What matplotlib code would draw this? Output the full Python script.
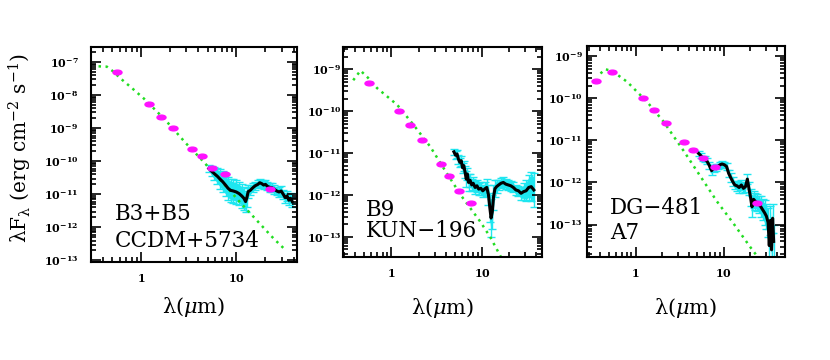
import numpy as np
import matplotlib
matplotlib.use("Agg")
import matplotlib.pyplot as plt
from matplotlib.path import Path
from matplotlib.ticker import FixedLocator, FuncFormatter, NullFormatter

plt.rcParams['mathtext.fontset'] = 'dejavuserif'

# ---------------- data ----------------
labels = [("B3+B5", "CCDM+5734"), ("B9", "KUN\u2212196"), ("DG\u2212481", "A7")]

# photometry (wavelength in micron, log10 lambda F_lambda)
phot1_lam = [0.56, 1.22, 1.63, 2.17, 3.44, 4.35, 5.6, 7.6, 22.4]
phot1_log = [-7.31, -8.28, -8.65, -9.01, -9.62, -9.83, -10.21, -10.39, -10.83]
phot2_lam = [0.56, 1.22, 1.62, 2.18, 3.53, 4.36, 5.62, 7.6]
phot2_log = [-9.32, -9.99, -10.32, -10.69, -11.26, -11.55, -11.90, -12.20]
phot3_lam = [0.36, 0.545, 1.22, 1.64, 2.2, 3.59, 4.5, 5.84, 7.9, 23.9]
phot3_log = [-9.59, -9.37, -9.99, -10.29, -10.58, -11.03, -11.24, -11.42, -11.64, -12.48]

# photospheric model
mod1_lam = [0.36, 0.44, 0.50, 0.62, 0.80, 1.08, 1.5, 1.99, 2.97, 4.1, 6.0, 8.5, 11.0, 14.9, 20.0, 25.0, 28.6, 31.0]
mod1_log = [-7.13, -7.14, -7.26, -7.51, -7.78, -8.11, -8.52, -8.89, -9.46, -9.88, -10.40, -10.88, -11.25, -11.66, -12.06, -12.36, -12.52, -12.62]
mod2_lam = [0.378, 0.455, 0.55, 0.695, 0.90, 1.16, 1.76, 2.69, 4.11, 6.0, 9.6, 12.3, 16.0, 18.0]
mod2_log = [-9.26, -9.03, -9.20, -9.45, -9.65, -9.85, -10.33, -10.85, -11.49, -12.04, -12.64, -13.00, -13.46, -13.65]
mod3_lam = [0.40, 0.457, 0.55, 0.805, 1.36, 2.09, 3.52, 5.44, 8.4, 12.9, 20.0, 25.0, 27.0]
mod3_log = [-9.41, -9.31, -9.36, -9.61, -10.09, -10.56, -11.25, -11.85, -12.45, -12.97, -13.53, -13.80, -13.90]

# IRS spectra (wavelength, log flux, error in dex)
spec1_lam = [5.15, 5.5, 5.9, 6.3, 6.8, 7.2, 7.7, 8.2, 8.7, 9.3, 10.0, 10.7, 11.4, 12.0, 12.5, 12.9, 13.3, 14.0,
             14.9, 15.8, 16.8, 17.6, 18.5, 19.3, 20.2, 21.2, 22.4, 23.6, 25.0, 26.5, 28.0, 29.5, 31.0, 32.5, 34.0,
             35.5, 37.0, 38.5]
spec1_log = [-10.22, -10.30, -10.38, -10.45, -10.55, -10.62, -10.72, -10.82, -10.88, -10.90, -10.93, -10.98,
             -11.05, -11.12, -11.22, -11.10, -10.92, -10.88, -10.80, -10.74, -10.70, -10.65, -10.68, -10.72,
             -10.70, -10.76, -10.79, -10.80, -10.85, -10.90, -10.93, -10.90, -11.00, -11.10, -11.05, -11.18,
             -11.12, -11.22]
spec1_err = [0.10, 0.15, 0.20, 0.25, 0.30, 0.32, 0.33, 0.35, 0.35, 0.35, 0.35, 0.35, 0.35, 0.35, 0.32, 0.28,
             0.20, 0.15, 0.13, 0.12, 0.12, 0.12, 0.12, 0.12, 0.12, 0.12, 0.13, 0.13, 0.13, 0.13, 0.14, 0.14,
             0.14, 0.15, 0.15, 0.15, 0.15, 0.15]

spec2_lam = [4.9, 5.1, 5.3, 5.5, 5.7, 5.9, 6.1, 6.3, 6.5, 6.7, 6.9, 7.1, 7.4, 7.7, 8.0, 8.4, 8.8, 9.2, 9.7,
             10.2, 10.8, 11.3, 11.8, 12.2, 12.6, 13.0, 13.4, 13.9, 14.5, 15.3, 16.2, 17.2, 18.3, 19.5, 20.8,
             22.2, 23.7, 25.3, 27.0, 28.8, 30.7, 32.8, 35.0, 37.4]
spec2_log = [-10.97, -11.05, -11.02, -11.15, -11.22, -11.18, -11.35, -11.30, -11.45, -11.62, -11.50, -11.70,
             -11.65, -11.76, -11.72, -11.82, -11.78, -11.86, -11.84, -11.90, -11.85, -11.82, -12.00, -12.30,
             -12.55, -12.40, -12.05, -11.85, -11.80, -11.76, -11.72, -11.70, -11.74, -11.76, -11.78, -11.82,
             -11.88, -11.90, -11.96, -11.92, -11.90, -11.82, -11.80, -11.88]
spec2_err = [0.08, 0.10, 0.10, 0.10, 0.10, 0.12, 0.12, 0.12, 0.15, 0.20, 0.15, 0.20, 0.15, 0.15, 0.15, 0.15,
             0.15, 0.15, 0.15, 0.15, 0.15, 0.20, 0.25, 0.35, 0.45, 0.40, 0.30, 0.20, 0.15, 0.12, 0.12, 0.12,
             0.12, 0.12, 0.12, 0.12, 0.12, 0.12, 0.15, 0.20, 0.25, 0.30, 0.35, 0.40]

spec3_lam = [5.2, 5.5, 5.8, 6.1, 6.5, 6.9, 7.3, 7.7, 8.1, 8.6, 9.1, 9.6, 10.2, 10.8, 11.4, 12.0, 12.7, 13.4,
             14.2, 15.0, 15.9, 16.8, 17.7, 18.6, 19.4, 20.2, 21.0, 21.9, 22.9, 24.0, 25.2, 26.5, 27.8, 29.2,
             30.6, 32.0, 33.0, 34.0, 35.0, 36.0, 37.0]
spec3_log = [-11.31, -11.36, -11.42, -11.45, -11.50, -11.60, -11.72, -11.66, -11.64, -11.62, -11.58, -11.56,
             -11.58, -11.62, -11.78, -11.88, -11.98, -12.06, -12.08, -12.12, -12.06, -12.14, -12.10, -11.92,
             -12.15, -12.35, -12.58, -12.40, -12.45, -12.48, -12.52, -12.58, -12.65, -12.72, -12.80, -12.95,
             -13.50, -12.90, -13.60, -12.85, -13.40]
spec3_err = [0.06, 0.06, 0.06, 0.07, 0.07, 0.08, 0.10, 0.08, 0.08, 0.07, 0.07, 0.07, 0.07, 0.08, 0.08, 0.10,
             0.10, 0.10, 0.12, 0.12, 0.12, 0.12, 0.12, 0.12, 0.15, 0.20, 0.25, 0.20, 0.20, 0.20, 0.20, 0.25,
             0.25, 0.30, 0.30, 0.35, 0.40, 0.35, 0.40, 0.35, 0.40]

panels = [
    dict(phot=(phot1_lam, phot1_log), mod=(mod1_lam, mod1_log), spec=(spec1_lam, spec1_log, spec1_err)),
    dict(phot=(phot2_lam, phot2_log), mod=(mod2_lam, mod2_log), spec=(spec2_lam, spec2_log, spec2_err)),
    dict(phot=(phot3_lam, phot3_log), mod=(mod3_lam, mod3_log), spec=(spec3_lam, spec3_log, spec3_err)),
]

# ---------------- layout ----------------
positions = [[0.1096, 0.272, 0.248, 0.597],
             [0.413, 0.285, 0.240, 0.584],
             [0.707, 0.285, 0.239, 0.587]]
xlims = [(0.30, 43), (0.29, 46), (0.28, 50)]
ylims = [(10**-13.05, 10**-6.55), (10**-13.49, 10**-8.47), (10**-13.78, 10**-8.76)]
ydec = [range(-13, -6), range(-13, -8), range(-13, -8)]
ypads = [9, 1, 3]
xlabelpads = [8, 12, 12]
text_pos = [(115, 214, 241), (366, 210, 231), (610, 208, 233)]

# ellipse marker
circ = Path.unit_circle()
ell = Path(circ.vertices * np.array([1.9, 1.0]), circ.codes)

fig = plt.figure(figsize=(8.3, 3.6), dpi=100)
cyan = '#1ee6f0'
green = '#22dd22'
magenta = '#ff11ff'

for i, p in enumerate(panels):
    ax = fig.add_axes(positions[i])
    ax.set_xscale('log')
    ax.set_yscale('log')

    sl, slog, serr = [np.array(v) for v in p['spec']]
    f = 10**slog
    lo = f - 10**(slog - serr)
    hi = 10**(slog + serr) - f
    ax.fill_between(sl, 10**(slog - serr * 0.8), 10**(slog + serr * 0.8), color=cyan, lw=0, zorder=1)
    ax.errorbar(sl, f, yerr=[lo, hi], fmt='none', ecolor=cyan, elinewidth=1.0, capsize=3, capthick=1.0, zorder=1)

    ml, mlog = p['mod']
    ax.plot(ml, 10**np.array(mlog), color=green, lw=1.8, linestyle=(0, (1, 1.8)), zorder=2)

    ax.plot(sl, f, color='black', lw=2.2, zorder=3)

    pl, plog = p['phot']
    ax.plot(pl, 10**np.array(plog), linestyle='none', marker=ell, ms=6.5, color=magenta, mec=magenta, zorder=4)

    ax.set_xlim(*xlims[i])
    ax.set_ylim(*ylims[i])

    ax.xaxis.set_major_locator(FixedLocator([1, 10]))
    ax.xaxis.set_minor_locator(FixedLocator([0.3, 0.4, 0.5, 0.6, 0.7, 0.8, 0.9, 2, 3, 4, 5, 6, 7, 8, 9,
                                             20, 30, 40]))
    ax.xaxis.set_major_formatter(FuncFormatter(lambda v, pos: r"$\mathbf{%d}$" % round(v)))
    ax.xaxis.set_minor_formatter(NullFormatter())

    yd = list(ydec[i])
    ax.yaxis.set_major_locator(FixedLocator([10.0**d for d in yd]))
    ax.yaxis.set_minor_locator(FixedLocator([m * 10.0**d for d in range(-14, -5) for m in range(2, 10)]))
    ax.yaxis.set_major_formatter(FuncFormatter(
        lambda v, pos: r"$\mathbf{10^{%d}}$" % round(np.log10(v))))
    ax.yaxis.set_minor_formatter(NullFormatter())

    ax.tick_params(which='both', direction='in', top=True, right=True, width=1.2, colors='black')
    ax.tick_params(which='major', length=7)
    ax.tick_params(which='minor', length=3.5)
    ax.tick_params(axis='x', which='major', labelsize=8, pad=7)
    ax.tick_params(axis='y', which='major', labelsize=8, pad=ypads[i])
    for s in ax.spines.values():
        s.set_linewidth(1.5)

    ax.set_xlabel("\u03bb($\\mu$m)", fontsize=15, family='DejaVu Serif', labelpad=xlabelpads[i])

    tx, ty1, ty2 = text_pos[i]
    fig.text(tx / 830, 1 - ty1 / 360, labels[i][0], fontsize=15.5, family='DejaVu Serif', va='center')
    fig.text(tx / 830, 1 - ty2 / 360, labels[i][1], fontsize=15.5, family='DejaVu Serif', va='center')

fig.text(20 / 830, 1 - 148 / 360, "\u03bbF$_{\\mathrm{\u03bb}}$ (erg cm$^{-2}$ s$^{-1}$)",
         rotation=90, fontsize=14.5, family='DejaVu Serif', ha='center', va='center')

fig.savefig("out.png", dpi=100)
